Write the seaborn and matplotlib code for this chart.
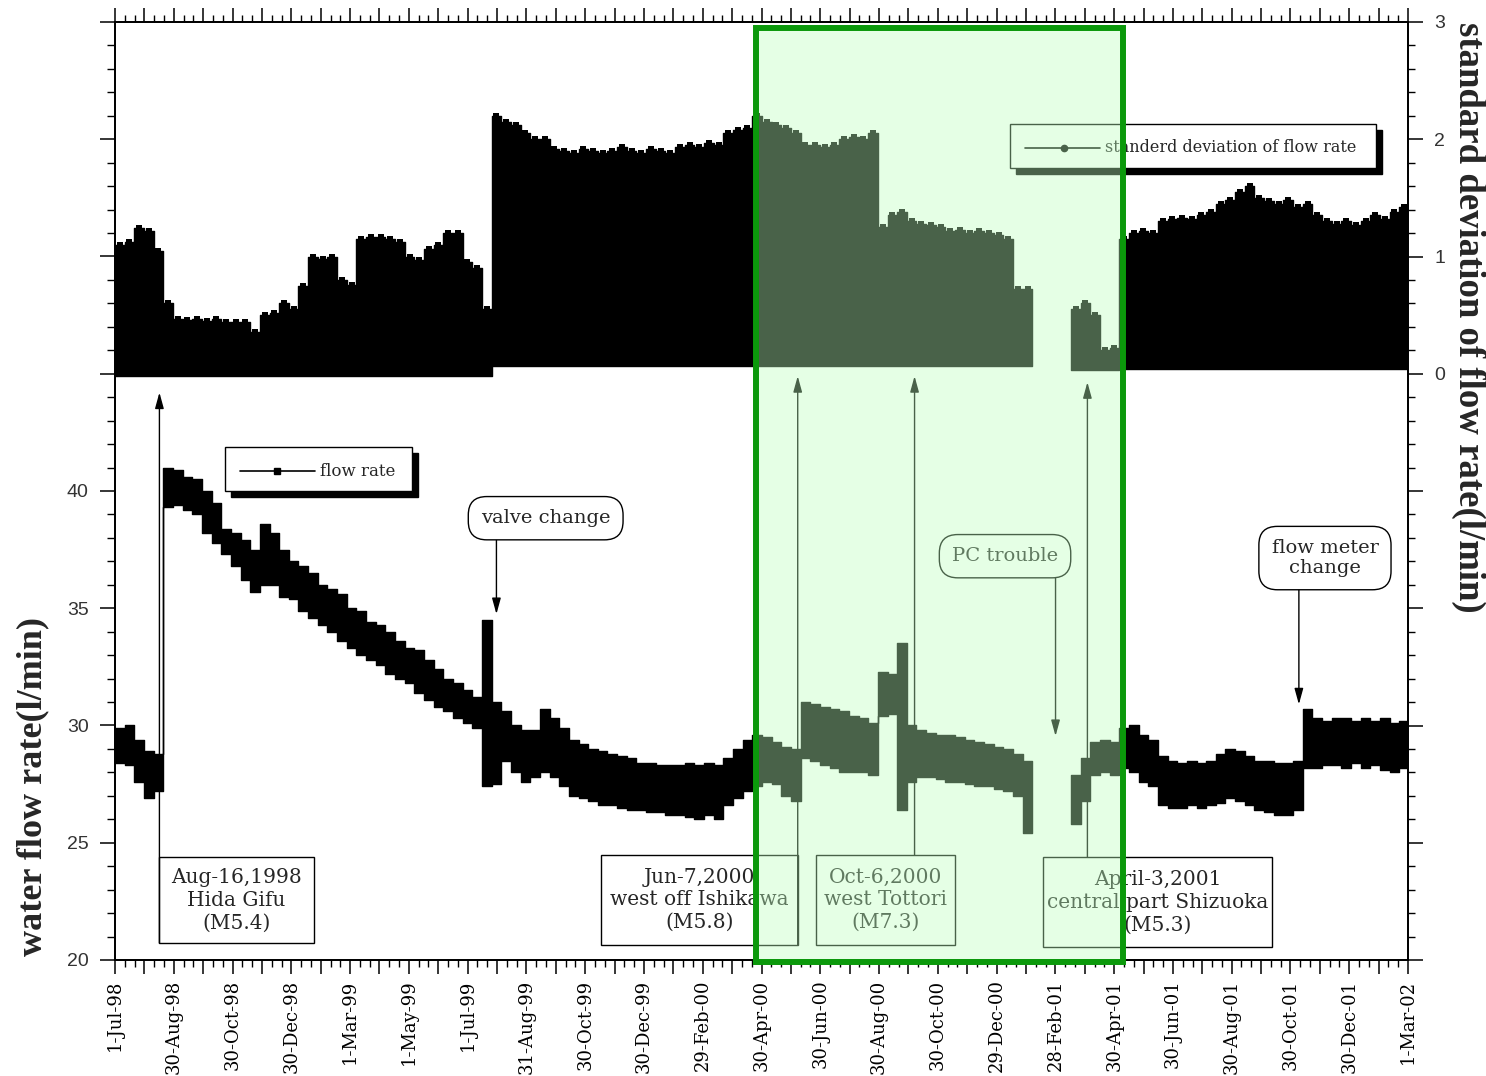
import numpy as np
import pandas as pd
import matplotlib
matplotlib.use("Agg")
import matplotlib.pyplot as plt
from matplotlib.patches import Rectangle
from matplotlib.lines import Line2D
from matplotlib.ticker import MultipleLocator, FixedLocator
from matplotlib.transforms import blended_transform_factory
import seaborn as sns

# ---------------- data ----------------
start_date = "1998-07-01"
end_date = "2002-03-01"
bin_days = 10  # each value below covers 10 days, starting at start_date

x_tick_labels = ["1-Jul-98", "30-Aug-98", "30-Oct-98", "30-Dec-98", "1-Mar-99",
                 "1-May-99", "1-Jul-99", "31-Aug-99", "30-Oct-99", "30-Dec-99",
                 "29-Feb-00", "30-Apr-00", "30-Jun-00", "30-Aug-00", "30-Oct-00",
                 "29-Dec-00", "28-Feb-01", "30-Apr-01", "30-Jun-01", "30-Aug-01",
                 "30-Oct-01", "30-Dec-01", "1-Mar-02"]

nan = float("nan")

flow_low = [
    28.4, 28.3, 27.6, 26.9, 27.2, 39.3, 39.4, 39.2, 39.0, 38.2,
    37.8, 37.3, 36.8, 36.2, 35.7, 36.0, 36.0, 35.5, 35.4, 34.9,
    34.6, 34.3, 34.0, 33.6, 33.3, 33.0, 32.8, 32.6, 32.2, 32.0,
    31.8, 31.4, 31.1, 30.8, 30.6, 30.3, 30.1, 29.9, 27.4, 27.5,
    28.5, 28.0, 27.6, 27.8, 28.0, 27.8, 27.4, 27.0, 26.9, 26.8,
    26.6, 26.6, 26.5, 26.4, 26.4, 26.3, 26.3, 26.2, 26.2, 26.1,
    26.0, 26.2, 26.0, 26.6, 26.9, 27.2, 27.4, 27.6, 27.5, 27.0,
    26.8, 28.6, 28.5, 28.3, 28.2, 28.0, 28.0, 28.0, 27.9, 30.4,
    30.5, 26.4, 27.6, 27.8, 27.8, 27.7, 27.6, 27.6, 27.5, 27.4,
    27.4, 27.3, 27.2, 27.0, 25.4, nan, nan, nan, nan, 25.8,
    26.8, 27.9, 28.0, 27.9, 28.2, 28.0, 27.6, 27.4, 26.6, 26.5,
    26.5, 26.6, 26.5, 26.6, 26.7, 26.9, 26.8, 26.6, 26.4, 26.3,
    26.2, 26.2, 26.4, 28.2, 28.2, 28.3, 28.3, 28.2, 28.4, 28.2,
    28.3, 28.1, 28.0, 28.2,
]

flow_high = [
    29.9, 30.0, 29.4, 28.9, 28.8, 41.0, 40.9, 40.6, 40.5, 40.0,
    39.5, 38.4, 38.2, 37.9, 37.5, 38.6, 38.2, 37.5, 37.0, 36.8,
    36.5, 36.0, 35.8, 35.6, 35.0, 34.9, 34.4, 34.3, 34.0, 33.6,
    33.3, 33.2, 32.8, 32.4, 32.0, 31.8, 31.5, 31.2, 34.5, 31.0,
    30.6, 30.0, 29.8, 29.8, 30.7, 30.3, 29.9, 29.4, 29.2, 29.0,
    28.9, 28.8, 28.7, 28.6, 28.4, 28.4, 28.3, 28.3, 28.3, 28.4,
    28.3, 28.4, 28.3, 28.6, 29.0, 29.4, 29.6, 29.5, 29.3, 29.1,
    29.0, 31.0, 30.9, 30.8, 30.7, 30.6, 30.4, 30.3, 30.1, 32.3,
    32.2, 33.5, 30.0, 29.8, 29.7, 29.6, 29.6, 29.5, 29.4, 29.3,
    29.2, 29.1, 29.0, 28.8, 28.5, nan, nan, nan, nan, 27.9,
    28.6, 29.3, 29.4, 29.3, 29.9, 30.0, 29.6, 29.4, 28.7, 28.5,
    28.4, 28.5, 28.4, 28.5, 28.8, 29.0, 28.9, 28.7, 28.5, 28.5,
    28.4, 28.4, 28.5, 30.7, 30.3, 30.2, 30.3, 30.3, 30.2, 30.3,
    30.2, 30.3, 30.1, 30.2,
]

std_low = [
    -0.02, -0.02, -0.02, -0.02, -0.02, -0.02, -0.02, -0.02, -0.02, -0.02,
    -0.02, -0.02, -0.02, -0.02, -0.02, -0.02, -0.02, -0.02, -0.02, -0.02,
    -0.02, -0.02, -0.02, -0.02, -0.02, -0.02, -0.02, -0.02, -0.02, -0.02,
    -0.02, -0.02, -0.02, -0.02, -0.02, -0.02, -0.02, -0.02, -0.02, 0.07,
    0.07, 0.07, 0.07, 0.07, 0.07, 0.07, 0.07, 0.07, 0.07, 0.07,
    0.07, 0.07, 0.07, 0.07, 0.07, 0.07, 0.07, 0.07, 0.07, 0.07,
    0.07, 0.07, 0.07, 0.07, 0.07, 0.07, 0.07, 0.07, 0.07, 0.07,
    0.07, 0.07, 0.07, 0.07, 0.07, 0.07, 0.07, 0.07, 0.07, 0.07,
    0.07, 0.07, 0.07, 0.07, 0.07, 0.07, 0.07, 0.07, 0.07, 0.07,
    0.07, 0.07, 0.07, 0.07, 0.07, nan, nan, nan, nan, 0.03,
    0.03, 0.03, 0.03, 0.03, 0.04, 0.04, 0.04, 0.04, 0.04, 0.04,
    0.04, 0.04, 0.04, 0.04, 0.04, 0.04, 0.04, 0.04, 0.04, 0.04,
    0.04, 0.04, 0.04, 0.04, 0.04, 0.04, 0.04, 0.04, 0.04, 0.04,
    0.04, 0.04, 0.04, 0.04,
]

std_high = [
    1.10, 1.12, 1.24, 1.22, 1.05, 0.60, 0.47, 0.46, 0.47, 0.45,
    0.47, 0.44, 0.44, 0.44, 0.36, 0.50, 0.52, 0.60, 0.55, 0.75,
    1.00, 0.98, 1.00, 0.80, 0.76, 1.15, 1.17, 1.17, 1.15, 1.12,
    1.00, 0.97, 1.06, 1.10, 1.20, 1.20, 0.95, 0.90, 0.55, 2.20,
    2.15, 2.12, 2.05, 2.00, 2.00, 1.92, 1.90, 1.88, 1.92, 1.90,
    1.88, 1.90, 1.93, 1.90, 1.88, 1.92, 1.90, 1.88, 1.93, 1.95,
    1.93, 1.97, 1.95, 2.05, 2.08, 2.10, 2.20, 2.15, 2.12, 2.10,
    2.05, 1.95, 1.95, 1.93, 1.95, 2.00, 2.02, 2.00, 2.05, 1.25,
    1.35, 1.38, 1.30, 1.28, 1.27, 1.25, 1.22, 1.23, 1.20, 1.22,
    1.20, 1.18, 1.15, 0.72, 0.72, nan, nan, nan, nan, 0.55,
    0.60, 0.50, 0.20, 0.22, 1.15, 1.20, 1.22, 1.20, 1.30, 1.32,
    1.33, 1.32, 1.35, 1.38, 1.45, 1.48, 1.55, 1.60, 1.50, 1.47,
    1.45, 1.48, 1.42, 1.45, 1.35, 1.30, 1.28, 1.30, 1.27, 1.30,
    1.35, 1.32, 1.38, 1.42,
]

event_dates = ["1998-08-16", "2000-06-07", "2000-10-06", "2001-04-03"]
event_texts = ["Aug-16,1998\nHida Gifu\n(M5.4)",
               "Jun-7,2000\nwest off Ishikawa\n(M5.8)",
               "Oct-6,2000\nwest Tottori\n(M7.3)",
               "April-3,2001\ncentral part Shizuoka\n(M5.3)"]
note_dates = ["1999-07-31", "2001-03-01", "2001-11-08"]
note_texts = ["valve change", "PC trouble", "flow meter\nchange"]

# ---------------- style ----------------
sns.set_theme(style="ticks")
plt.rcParams.update({
    "font.family": ["DejaVu Serif"],
    "axes.linewidth": 1.3,
    "axes.edgecolor": "black",
    "xtick.color": "black",
    "ytick.color": "black",
})

t0 = pd.Timestamp(start_date)
total_days = (pd.Timestamp(end_date) - t0).days


def day(s):
    return (pd.Timestamp(s) - t0).days


n = len(flow_low)
assert n == len(flow_high) == len(std_low) == len(std_high)
edges = np.arange(n + 1) * bin_days
xs = np.repeat(edges, 2)[1:-1]


def steps(v):
    return np.repeat(np.asarray(v, dtype=float), 2)


W, H = 1486, 1076
fig = plt.figure(figsize=(W / 100, H / 100), dpi=100)
fig.patch.set_facecolor("white")
ax = fig.add_axes([115 / W, 1 - 960 / H, (1408 - 115) / W, (960 - 22) / H])
ax2 = ax.twinx()

# flow rate band (left axis)
ax.fill_between(xs, steps(flow_low), steps(flow_high), color="black",
                edgecolor="black", linewidth=1.0, zorder=3)
# standard deviation band (right axis)
ax2.fill_between(xs, steps(std_low), steps(std_high), color="black",
                 edgecolor="black", linewidth=1.0, zorder=3)
centers = edges[:-1] + bin_days / 2
sns.scatterplot(x=centers, y=np.asarray(std_high, float), ax=ax2, marker="s",
                s=22, color="black", edgecolor="black", linewidth=0, zorder=4,
                legend=False)

# axes limits / ticks
ax.set_xlim(0, total_days)
ax.set_ylim(20, 60)
ax2.set_ylim(-5, 3)

major_x = np.linspace(0, total_days, 2 * (len(x_tick_labels) - 1) + 1)
labels_x = []
for i in range(len(major_x)):
    labels_x.append(x_tick_labels[i // 2] if i % 2 == 0 else "")
ax.set_xticks(major_x)
ax.set_xticklabels(labels_x, rotation=90, fontsize=13, family="DejaVu Serif")
ax.xaxis.set_minor_locator(FixedLocator(np.linspace(0, total_days, 6 * (len(x_tick_labels) - 1) + 1)))
ax.tick_params(axis="x", which="both", top=True, bottom=True, direction="out")
ax.tick_params(axis="x", which="major", length=10, width=1.1, pad=4)
ax.tick_params(axis="x", which="minor", length=5, width=1.0)

ax.set_yticks(np.arange(20, 61, 5))
ax.set_yticklabels(["20", "25", "30", "35", "40", "", "", "", ""],
                   fontsize=14, family="Liberation Sans", color="#333333")
ax.yaxis.set_minor_locator(MultipleLocator(1))
ax.tick_params(axis="y", which="major", length=11, width=1.1, pad=8, direction="out")
ax.tick_params(axis="y", which="minor", length=6, width=1.0, direction="out")

ax2.set_yticks(np.arange(-5, 4, 1))
ax2.set_yticklabels(["", "", "", "", "", "0", "1", "2", "3"],
                    fontsize=14, family="Liberation Sans", color="#333333")
ax2.yaxis.set_minor_locator(MultipleLocator(0.2))
ax2.tick_params(axis="y", which="major", length=11, width=1.1, pad=8, direction="out")
ax2.tick_params(axis="y", which="minor", length=5, width=1.0, direction="out")
ax.grid(False)
ax2.grid(False)

# axis titles
fig.text(33 / W, 1 - 787 / H, "water flow rate(l/min)", rotation=90,
         ha="center", va="center", fontsize=26, fontweight="bold",
         family="Liberation Serif")
fig.text(1469 / W, 1 - 317 / H, "standard deviation of flow rate(l/min)",
         rotation=-90, ha="center", va="center", fontsize=26.5,
         fontweight="bold", family="Liberation Serif")

# ---------------- earthquake annotations ----------------
eq_box_x = [(day(event_dates[0]), 206), (503, day(event_dates[1])), (726, 870), (961, 1198)]
eq_box_y = [(20.72, 24.39), (20.64, 24.48), (20.64, 24.48), (20.55, 24.39)]
eq_line_from_top = [False, False, True, True]
eq_tip = [44.2, 44.9, 44.9, 44.64]
for i, d in enumerate(event_dates):
    x0, x1 = eq_box_x[i]
    y0, y1 = eq_box_y[i]
    ax.add_patch(Rectangle((x0, y0), x1 - x0, y1 - y0, facecolor="white",
                           edgecolor="black", linewidth=1.0, zorder=6))
    ax.text((x0 + x1) / 2, (y0 + y1) / 2, event_texts[i], ha="center",
            va="center", fontsize=14.5, linespacing=1.25, zorder=7,
            family="DejaVu Serif")
    ystart = y1 if eq_line_from_top[i] else y0
    ax.annotate("", xy=(day(d), eq_tip[i]), xytext=(day(d), ystart),
                arrowprops=dict(arrowstyle="-|>,head_length=0.8,head_width=0.22",
                                color="black", lw=1.0, shrinkA=0, shrinkB=0),
                zorder=6, annotation_clip=False)

# ---------------- notes with rounded boxes ----------------
note_center = [(446, 38.84), (921.7, 37.22), (1253, 37.14)]
note_from = [37.9, 36.5, 35.9]
note_tip = [34.75, 29.55, 30.9]
for i, d in enumerate(note_dates):
    cx, cy = note_center[i]
    ax.text(cx, cy, note_texts[i], ha="center", va="center", fontsize=14,
            linespacing=1.15, zorder=7, family="DejaVu Serif",
            bbox=dict(boxstyle="round,pad=0.65,rounding_size=0.95",
                      facecolor="white", edgecolor="black", linewidth=1.0))
    ax.annotate("", xy=(day(d), note_tip[i]), xytext=(day(d), note_from[i]),
                arrowprops=dict(arrowstyle="-|>,head_length=0.8,head_width=0.22",
                                color="black", lw=1.0, shrinkA=0, shrinkB=0),
                zorder=6)

# ---------------- legends (boxes with shadows) ----------------
def legend_box(axis, x0, x1, y0, y1, line_x0, line_x1, mk_x, y_mid, marker, text, fs):
    dx, dy = 0.0046, -0.0064
    axis.add_patch(Rectangle((x0 + dx, y0 + dy), x1 - x0, y1 - y0,
                             transform=axis.transAxes, facecolor="black",
                             edgecolor="black", zorder=20, clip_on=False))
    axis.add_patch(Rectangle((x0, y0), x1 - x0, y1 - y0,
                             transform=axis.transAxes, facecolor="white",
                             edgecolor="black", linewidth=1.0, zorder=21,
                             clip_on=False))
    axis.add_line(Line2D([line_x0, line_x1], [y_mid, y_mid], color="black",
                         lw=1.2, transform=axis.transAxes, zorder=22))
    axis.add_line(Line2D([mk_x], [y_mid], color="black", marker=marker,
                         markersize=4.5, transform=axis.transAxes, zorder=23))
    axis.text(line_x1 + 0.004, y_mid, text, transform=axis.transAxes,
              ha="left", va="center", fontsize=fs, zorder=23,
              family="DejaVu Serif")


legend_box(ax2, 0.0851, 0.2297, 0.500, 0.547, 0.0967, 0.1547, 0.1253, 0.5213,
           "s", "flow rate", 12)
legend_box(ax2, 0.692, 0.975, 0.8443, 0.8913, 0.7038, 0.7618, 0.734, 0.8657,
           "o", "standerd deviation of flow rate", 11.5)

# ---------------- green highlight overlay ----------------
tr = blended_transform_factory(ax.transData, fig.transFigure)
gx0, gx1 = 663.8, 1043.4
gy0, gy1 = 1 - 961.5 / H, 1 - 28 / H
face = Rectangle((gx0, gy0), gx1 - gx0, gy1 - gy0, transform=tr,
                 facecolor=(0.74, 1.0, 0.74), alpha=0.39, edgecolor="none",
                 zorder=50)
edge = Rectangle((gx0, gy0), gx1 - gx0, gy1 - gy0, transform=tr,
                 facecolor="none", edgecolor="#0b990b", linewidth=4.3,
                 zorder=51)
fig.add_artist(face)
fig.add_artist(edge)

fig.savefig("out.png", dpi=100)
